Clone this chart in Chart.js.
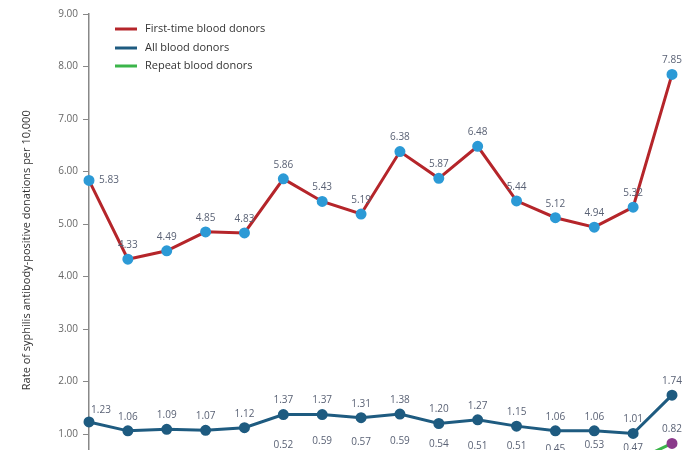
<!DOCTYPE html>
<html><head><meta charset="utf-8">
<script src="https://cdn.jsdelivr.net/npm/chart.js@4/dist/chart.umd.min.js"></script>
<style>
html,body{margin:0;padding:0;background:#fff;overflow:hidden;width:700px;height:450px;}
#wrap{width:700px;height:500px;position:relative;}
</style></head>
<body><div id="wrap"><canvas id="c"></canvas></div>
<script>
const categories = ['2000','2001','2002','2003','2004','2005','2006','2007','2008','2009','2010','2011','2012','2013','2014','2015'];
const firstTime = [5.83,4.33,4.49,4.85,4.83,5.86,5.43,5.19,6.38,5.87,6.48,5.44,5.12,4.94,5.32,7.85];
const allDonors = [1.23,1.06,1.09,1.07,1.12,1.37,1.37,1.31,1.38,1.20,1.27,1.15,1.06,1.06,1.01,1.74];
const repeatDonors = [0.30,0.28,0.30,0.29,0.31,0.52,0.59,0.57,0.59,0.54,0.51,0.51,0.45,0.53,0.47,0.82];
const yTicks = [0,1,2,3,4,5,6,7,8,9];
const seriesNames = ['First-time blood donors','All blood donors','Repeat blood donors'];

const FONT = "'Open Sans', 'DejaVu Sans', sans-serif";

const labelPlugin = {
  id: 'valueLabels',
  afterDatasetsDraw(chart) {
    const ctx = chart.ctx;
    ctx.save();
    ctx.font = '10px ' + FONT;
    ctx.fillStyle = '#5a6275';
    ctx.textAlign = 'center';
    ctx.textBaseline = 'middle';
    chart.data.datasets.forEach((ds, di) => {
      const meta = chart.getDatasetMeta(di);
      meta.data.forEach((pt, i) => {
        let dx = 0, dy = -14;
        if (i === 0 && di === 0) { dx = 20; dy = 0; }
        else if (i === 0) { dx = 12; dy = -12; }
        ctx.fillText(ds.data[i].toFixed(2), pt.x + dx, pt.y + dy);
      });
    });
    ctx.restore();
  }
};

const legendPlugin = {
  id: 'customLegend',
  afterDraw(chart) {
    const ctx = chart.ctx;
    ctx.save();
    ctx.font = '11px ' + FONT;
    ctx.textBaseline = 'middle';
    ctx.textAlign = 'left';
    const rows = [29, 48, 66];
    chart.data.datasets.forEach((ds, di) => {
      const y = rows[di];
      ctx.strokeStyle = ds.borderColor;
      ctx.lineWidth = 3;
      ctx.beginPath();
      ctx.moveTo(115, y); ctx.lineTo(137, y);
      ctx.stroke();
      ctx.fillStyle = '#333';
      ctx.fillText(seriesNames[di], 145, y);
    });
    ctx.restore();
  }
};

new Chart(document.getElementById('c'), {
  type: 'line',
  data: {
    labels: categories,
    datasets: [
      { label: seriesNames[0], data: firstTime, borderColor: '#b5252a', backgroundColor: '#2c9ad6',
        pointBackgroundColor: '#2c9ad6', pointBorderColor: '#2c9ad6', borderWidth: 3, pointRadius: 4, tension: 0 },
      { label: seriesNames[1], data: allDonors, borderColor: '#1e5b80', backgroundColor: '#1e5b80',
        pointBackgroundColor: '#1e5b80', pointBorderColor: '#1e5b80', borderWidth: 3, pointRadius: 4, tension: 0 },
      { label: seriesNames[2], data: repeatDonors, borderColor: '#3bb54a', backgroundColor: '#8b3a8b',
        pointBackgroundColor: '#8b3a8b', pointBorderColor: '#8b3a8b', borderWidth: 3, pointRadius: 4, tension: 0 }
    ]
  },
  options: {
    responsive: true,
    maintainAspectRatio: false,
    animation: false,
    layout: { padding: { top: 14, right: 28, bottom: 13.5, left: 0 } },
    plugins: { legend: { display: false }, tooltip: { enabled: false } },
    scales: {
      x: { display: false, offset: false },
      y: {
        min: 0, max: 9,
        afterBuildTicks(scale) { scale.ticks = yTicks.map(v => ({ value: v })); },
        afterFit(scale) { scale.width = 89; },
        ticks: { callback: v => v === 0 ? '' : Number(v).toFixed(2), color: '#666', font: { family: FONT, size: 10 }, padding: 5 },
        grid: { drawOnChartArea: false, drawTicks: true, tickLength: 6, color: '#888' },
        border: { display: true, color: '#888', width: 1.5 },
        title: { display: true, text: 'Rate of syphilis antibody-positive donations per 10,000',
          color: '#333', font: { family: FONT, size: 11 }, padding: { top: 20, bottom: 0 } }
      }
    }
  },
  plugins: [labelPlugin, legendPlugin]
});
</script></body></html>
